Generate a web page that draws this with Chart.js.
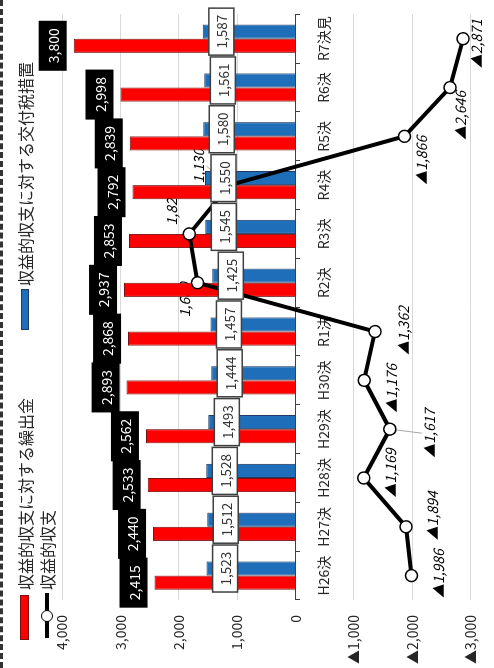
<!DOCTYPE html>
<html>
<head>
<meta charset="utf-8">
<script src="https://cdn.jsdelivr.net/npm/chart.js@4.4.1/dist/chart.umd.min.js"></script>
<style>
  html, body { margin: 0; padding: 0; background: #fff; overflow: hidden; width: 494px; height: 668px; }
  /* the chart is laid out landscape and turned a quarter-turn to stand upright */
  #stage { position: absolute; left: 0; top: 0; width: 668px; height: 494px; background: #fff;
           transform-origin: 0 0; transform: translate(0px, 668px) rotate(-90deg);
           font-family: "Noto Sans CJK JP", sans-serif; }
  #frame { position: absolute; left: 0; top: 0; width: 668px; height: 0; border-top: 3px dashed #333; }
  #chart { position: absolute; left: 0; top: 0; }
  .lg { position: absolute; font-size: 16px; line-height: 16px; color: #262626; white-space: nowrap; }
  .sw { position: absolute; box-sizing: border-box; }
</style>
</head>
<body>
<div id="stage">
  <div id="frame"></div>
  <canvas id="chart" width="668" height="494"></canvas>
  <!-- legend -->
  <div class="sw" style="left:28px;top:20px;width:45px;height:9px;background:#ff0000;border:1px solid #7a1010;"></div>
  <div class="lg" style="left:78px;top:17px;">収益的収支に対する繰出金</div>
  <div class="sw" style="left:338px;top:21px;width:41px;height:8px;background:#1e6eb9;border:1px solid #1f3864;"></div>
  <div class="lg" style="left:382px;top:17px;">収益的収支に対する交付税措置</div>
  <div class="sw" style="left:30px;top:45px;width:45px;height:4px;background:#000;"></div>
  <div class="sw" style="left:46px;top:41px;width:12px;height:12px;border-radius:50%;background:#fff;border:1.5px solid #000;"></div>
  <div class="lg" style="left:78px;top:39px;">収益的収支</div>
</div>
<script>
// fiscal years
const categories = ['H26決', 'H27決', 'H28決', 'H29決', 'H30決', 'R1決', 'R2決', 'R3決', 'R4決', 'R5決', 'R6決', 'R7決見'];
// 収益的収支に対する繰出金
const transfers = [2415, 2440, 2533, 2562, 2893, 2868, 2937, 2853, 2792, 2839, 2998, 3800];
// 収益的収支に対する交付税措置
const taxMeasures = [1523, 1512, 1528, 1493, 1444, 1457, 1425, 1545, 1550, 1580, 1561, 1587];
// 収益的収支 (negative = deficit)
const balance = [-1986, -1894, -1169, -1617, -1176, -1362, 1680, 1820, 1130, -1866, -2646, -2871];
// value axis ticks
const valueTicks = [-3000, -2000, -1000, 0, 1000, 2000, 3000, 4000];

// label placement for the balance line: offset of label centre from its point, and whether a leader line is drawn
const balanceLabelPlacement = [
  [2, 27, false], [11, 27, false], [5, 27, false], [-4, 40, true], [-8, 28, false], [1, 29, false],
  [-17, -13, false], [26, -18, false], [19, -31, true], [-24, 17, false], [-28, 11, false], [-5, 14, false]
];

const FONT = '"Noto Sans CJK JP", sans-serif';
Chart.defaults.font.family = FONT;
Chart.defaults.color = '#262626';

const fmt = v => (v < 0 ? '▲' : '') + Math.abs(v).toLocaleString('en-US');

const labelPlugin = {
  id: 'valueLabels',
  // balance labels sit underneath the bars
  beforeDatasetsDraw(chart) {
    const ctx = chart.ctx;
    const meta = chart.getDatasetMeta(2);
    ctx.save();
    ctx.font = 'italic 14px ' + FONT;
    ctx.fillStyle = '#000';
    ctx.textAlign = 'center';
    ctx.textBaseline = 'middle';
    meta.data.forEach((pt, i) => {
      const [dx, dy, leader] = balanceLabelPlacement[i];
      const lx = pt.x + dx, ly = pt.y + dy;
      if (leader) {
        ctx.strokeStyle = '#a6a6a6';
        ctx.lineWidth = 1;
        ctx.beginPath();
        ctx.moveTo(pt.x, pt.y);
        ctx.lineTo(lx, ly + (dy > 0 ? -8 : 8));
        ctx.stroke();
      }
      ctx.fillText(fmt(balance[i]), lx, ly);
    });
    ctx.restore();
  },
  // boxed labels on top of bars and line
  afterDatasetsDraw(chart) {
    const ctx = chart.ctx;
    ctx.save();
    ctx.textAlign = 'center';
    ctx.textBaseline = 'middle';
    // 繰出金: white on black box above each red bar
    chart.getDatasetMeta(0).data.forEach((bar, i) => {
      const w = 50, h = 28;
      const x = bar.x - w / 2, y = bar.y - 7 - h;
      ctx.fillStyle = '#000';
      ctx.fillRect(x, y, w, h);
      ctx.fillStyle = '#fff';
      ctx.font = '14px ' + FONT;
      ctx.fillText(fmt(transfers[i]), bar.x, y + h / 2 + 1);
    });
    // 交付税措置: dark text in white box inside the end of each blue bar
    chart.getDatasetMeta(1).data.forEach((bar, i) => {
      const w = 47, h = 25;
      const x = bar.x - w / 2, y = bar.y + 6;
      ctx.fillStyle = '#fff';
      ctx.fillRect(x, y, w, h);
      ctx.strokeStyle = '#404040';
      ctx.lineWidth = 1.5;
      ctx.strokeRect(x, y, w, h);
      ctx.fillStyle = '#333';
      ctx.font = '13.5px ' + FONT;
      ctx.fillText(fmt(taxMeasures[i]), bar.x, y + h / 2 + 1);
    });
    ctx.restore();
  }
};

new Chart(document.getElementById('chart'), {
  data: {
    labels: categories,
    datasets: [
      {
        type: 'bar', label: '収益的収支に対する繰出金', data: transfers, order: 1,
        backgroundColor: '#ff0000', borderColor: '#7a1010', borderWidth: 1,
        categoryPercentage: 0.58, barPercentage: 1
      },
      {
        type: 'bar', label: '収益的収支に対する交付税措置', data: taxMeasures, order: 1,
        backgroundColor: '#1e6eb9', borderColor: '#1f3864', borderWidth: 1,
        categoryPercentage: 0.58, barPercentage: 1
      },
      {
        type: 'line', label: '収益的収支', data: balance, order: 0,
        borderColor: '#000', borderWidth: 4, tension: 0,
        pointRadius: 6, pointBorderWidth: 1.5, pointBackgroundColor: '#fff', pointBorderColor: '#000'
      }
    ]
  },
  options: {
    responsive: false,
    animation: false,
    devicePixelRatio: 1,
    layout: { padding: { left: 0, right: 9, top: 62, bottom: 0 } },
    plugins: { legend: { display: false }, tooltip: { enabled: false } },
    scales: {
      x: {
        type: 'category',
        position: { y: 0 },
        offset: true,
        grid: { display: true, drawOnChartArea: false, drawTicks: true, tickLength: 4, offset: true, color: '#404040' },
        border: { display: true, color: '#404040', width: 1 },
        ticks: { font: { size: 14 }, color: '#262626', padding: 16, maxRotation: 0, autoSkip: false },
        afterFit(scale) { scale.height = 13.5; }
      },
      y: {
        type: 'linear',
        min: -3000, max: 4000,
        afterBuildTicks(scale) { scale.ticks = valueTicks.map(v => ({ value: v })); },
        grid: { color: '#d9d9d9', lineWidth: 1, drawTicks: false },
        border: { display: false },
        ticks: { font: { size: 14 }, color: '#262626', padding: 15, callback: v => fmt(v) },
        afterFit(scale) { scale.width = 68; }
      }
    }
  },
  plugins: [labelPlugin]
});
</script>
</body>
</html>
